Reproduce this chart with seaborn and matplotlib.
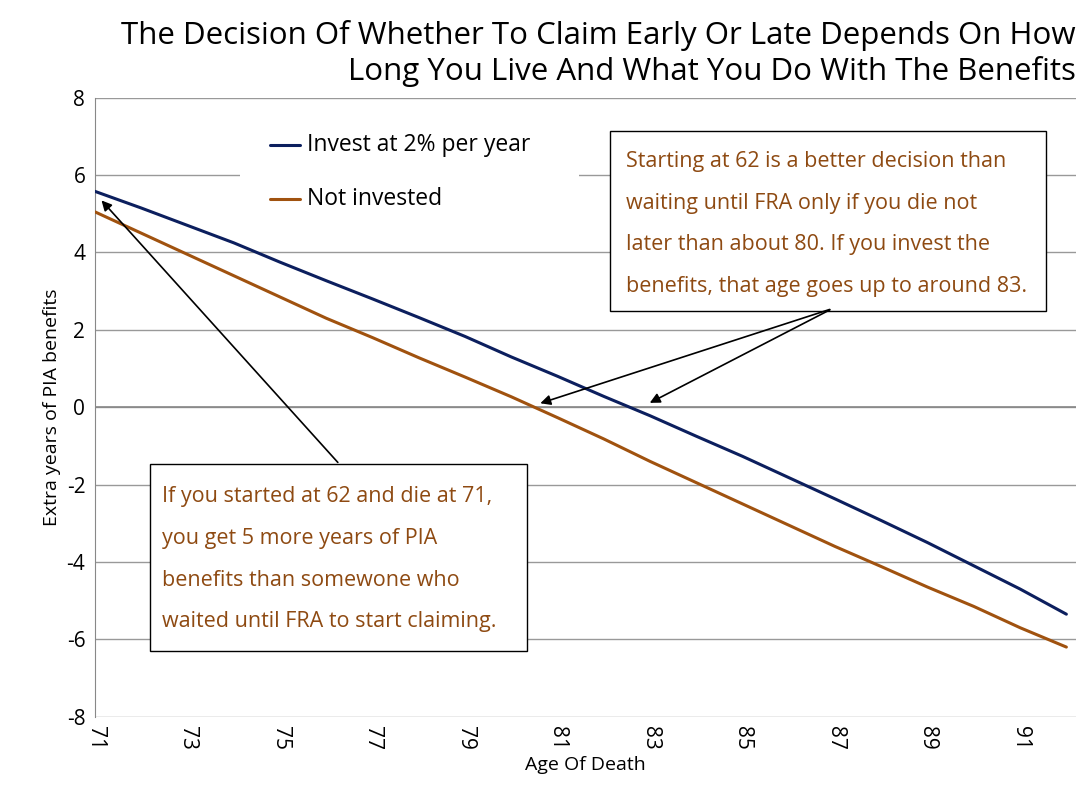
import matplotlib
matplotlib.use("Agg")
import matplotlib.pyplot as plt
import seaborn as sns
import pandas as pd
from matplotlib.patches import Rectangle

ages = list(range(71, 93))
invested = [5.58, 5.15, 4.7, 4.25, 3.75, 3.27, 2.8, 2.32, 1.83, 1.3, 0.8, 0.28,
            -0.22, -0.75, -1.27, -1.82, -2.37, -2.93, -3.5, -4.1, -4.7, -5.35]
not_invested = [5.05, 4.5, 3.95, 3.4, 2.85, 2.3, 1.8, 1.28, 0.78, 0.27, -0.27, -0.82,
                -1.4, -1.95, -2.5, -3.05, -3.6, -4.12, -4.65, -5.15, -5.7, -6.2]

navy = '#0c1f5e'
brown = '#a0520f'
txt_brown = '#8e4a12'

sns.set_style('white')
plt.rcParams['font.family'] = ['Open Sans', 'DejaVu Sans']
plt.rcParams['axes.unicode_minus'] = False
plt.rcParams['text.color'] = 'black'
plt.rcParams['axes.labelcolor'] = 'black'
plt.rcParams['xtick.color'] = 'black'
plt.rcParams['ytick.color'] = 'black'

df = pd.DataFrame({'age': ages, 'inv': invested, 'not': not_invested})

fig = plt.figure(figsize=(10.92, 8.08), dpi=100)
ax = fig.add_axes([0.087, 0.113, 0.898, 0.766])
sns.lineplot(data=df, x='age', y='inv', color=navy, lw=2.2, ax=ax, zorder=3)
sns.lineplot(data=df, x='age', y='not', color=brown, lw=2.2, ax=ax, zorder=3)

ax.set_xlim(71, 92.2)
ax.set_ylim(-8, 8)
ax.set_xticks(range(71, 92, 2))
ax.set_yticks(range(-8, 9, 2))
ax.tick_params(axis='x', labelrotation=270, labelsize=15)
ax.tick_params(axis='y', labelsize=15)
ax.yaxis.grid(True, color='#999999', lw=1)
ax.axhline(0, color='#888888', lw=1.2, zorder=2)
for s in ['top', 'right', 'bottom']:
    ax.spines[s].set_visible(False)
ax.spines['left'].set_color('#888888')
ax.set_xlabel('Age Of Death', fontsize=14)
ax.set_ylabel('Extra years of PIA benefits', fontsize=14)

fig.text(0.985, 0.975, 'The Decision Of Whether To Claim Early Or Late Depends On How\n'
         'Long You Live And What You Do With The Benefits',
         ha='right', va='top', fontsize=22.5, linespacing=1.2)

# legend
ax.add_patch(Rectangle((74.13, 4.83), 7.34, 2.6, facecolor='white', edgecolor='none', zorder=2.5))
ax.plot([74.78, 75.43], [6.78, 6.78], color=navy, lw=2.2, zorder=4)
ax.plot([74.78, 75.43], [5.38, 5.38], color=brown, lw=2.2, zorder=4)
ax.text(75.58, 6.78, 'Invest at 2% per year', va='center', fontsize=16.5, zorder=4)
ax.text(75.58, 5.38, 'Not invested', va='center', fontsize=16.5, zorder=4)

# annotation boxes
ax.add_patch(Rectangle((82.14, 2.49), 9.42, 4.65, facecolor='white', edgecolor='black', lw=1, zorder=4))
for y, t in zip([6.36, 5.27, 4.21, 3.12],
                ['Starting at 62 is a better decision than',
                 'waiting until FRA only if you die not',
                 'later than about 80. If you invest the',
                 'benefits, that age goes up to around 83.']):
    ax.text(82.47, y, t, va='center', fontsize=15.5, color=txt_brown, zorder=5)

ax.add_patch(Rectangle((72.19, -6.29), 8.14, 4.81, facecolor='white', edgecolor='black', lw=1, zorder=4))
for y, t in zip([-2.31, -3.40, -4.47, -5.53],
                ['If you started at 62 and die at 71,',
                 'you get 5 more years of PIA',
                 'benefits than somewone who',
                 'waited until FRA to start claiming.']):
    ax.text(72.45, y, t, va='center', fontsize=15.5, color=txt_brown, zorder=5)

arrow = dict(arrowstyle='-|>', color='black', lw=1.2, mutation_scale=15)
ax.annotate('', xy=(80.57, 0.08), xytext=(86.94, 2.55), arrowprops=arrow, zorder=5)
ax.annotate('', xy=(82.94, 0.08), xytext=(86.94, 2.55), arrowprops=arrow, zorder=5)
ax.annotate('', xy=(71.1, 5.4), xytext=(76.29, -1.48), arrowprops=arrow, zorder=5)

fig.savefig('out.png', dpi=100)
